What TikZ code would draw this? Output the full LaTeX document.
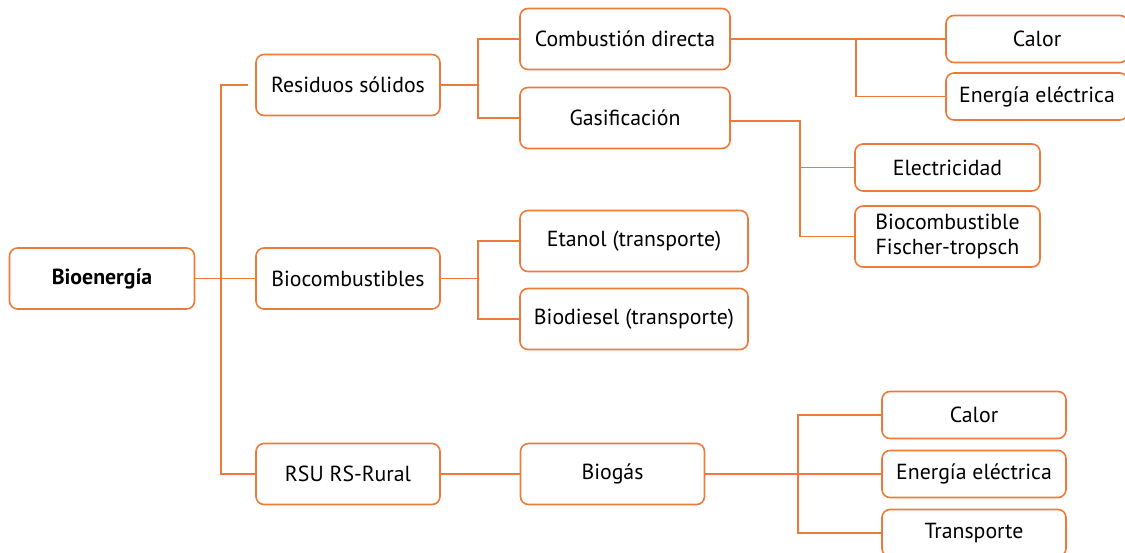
\documentclass[tikz,border=0pt]{standalone}
\usepackage{fontspec}
\setmainfont{PT Sans}
\definecolor{bioorange}{RGB}{238,122,58}
\usetikzlibrary{calc}

\begin{document}
\begin{tikzpicture}[x=0.5pt,y=-0.5pt,
    box/.style={draw=bioorange,line width=0.8pt,rounded corners=4pt,
        align=center,inner sep=0pt,font={\fontsize{10.9}{12.4}\selectfont}},
    tall/.style={box,minimum height=30.5pt},
    flat/.style={box,minimum height=23.5pt},
    link/.style={draw=bioorange,line width=0.8pt},
    ]
    % Frame
    \useasboundingbox (0,0) rectangle (1125,552);
    \clip (0,0) rectangle (1125,552);

    % Root
    \node[tall,minimum width=92.5pt,font={\fontsize{10.9}{12.4}\selectfont\bfseries}] (bio) at (102,278.5) {Bioenergía};

    % Second level
    \node[tall,minimum width=92pt] (res) at (348,85) {Residuos sólidos};
    \node[tall,minimum width=92pt] (bcs) at (348,278.5) {Biocombustibles};
    \node[tall,minimum width=92pt] (rsu) at (348,474) {RSU RS-Rural};

    % Third level
    \node[tall,minimum width=105pt] (comb) at (625,39) {Combustión directa};
    \node[tall,minimum width=105pt] (gas) at (625,118) {Gasificación};
    \node[tall,minimum width=114pt] (eta) at (634,241) {Etanol (transporte)};
    \node[tall,minimum width=114pt] (bdi) at (634,319) {Biodiesel (transporte)};
    \node[tall,minimum width=92pt] (bgs) at (612.5,474) {Biogás};

    % Fourth level
    \node[flat,minimum width=91pt] (cal1) at (1037,39) {Calor};
    \node[flat,minimum width=91pt] (ene1) at (1037,96.5) {Energía eléctrica};
    \node[flat,minimum width=92.5pt] (ele) at (947.5,167.5) {Electricidad};
    \node[tall,minimum width=92.5pt] (fis) at (947.5,236.5) {Biocombustible\\Fischer-tropsch};
    \node[flat,minimum width=92pt] (cal2) at (974,415) {Calor};
    \node[flat,minimum width=92pt] (ene2) at (974,474) {Energía eléctrica};
    \node[flat,minimum width=92pt] (tra) at (974,533) {Transporte};

    % Branch points
    \coordinate (t0) at (221,0);
    \coordinate (t1) at (478,0);
    \coordinate (t2) at (856,0);
    \coordinate (t3) at (800,0);
    \coordinate (t4) at (798,0);

    % Root links
    \path[link] ([xshift=-3.5pt]res.west) -| (t0 |- rsu.west) -- (rsu.west);
    \path[link] (bio.east) -- (bcs.west);

    % Residuos
    \path[link] (res.east) -- (res.east -| t1);
    \path[link] (comb.west) -| (t1 |- gas.west) -- (gas.west);
    \path[link] (comb.east) -- (cal1.west);
    \path[link] (comb.east -| t2) |- (ene1.west);
    \path[link] ([yshift=-1.5pt]gas.east) -| (t3 |- fis.west) -- (fis.west);
    \path[link] (t3 |- ele.west) -- (ele.west);

    % Biocombustibles
    \path[link] (bcs.east) -- (bcs.east -| t1);
    \path[link] (eta.west) -| (t1 |- bdi.west) -- (bdi.west);

    % RSU
    \path[link] (rsu) -- (bgs);
    \path[link] (bgs.east) -- (ene2.west);
    \path[link] (cal2.west) -| (t4 |- tra.west) -- (tra.west);

\end{tikzpicture}
\end{document}
